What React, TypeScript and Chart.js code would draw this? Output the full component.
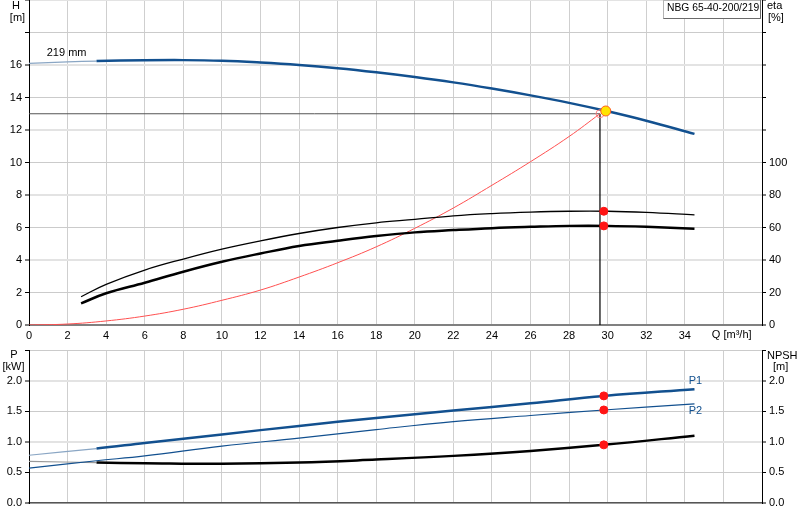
import { useEffect, useRef } from "react";
import { Chart, registerables } from "chart.js";

Chart.register(...registerables);

const FONT = "'Liberation Sans', Arial, sans-serif";
const BLUE = "#12508f";
const BLUE_FADED = "#8aa6c4";
const MIN_FLOW = 3.5;

// Q-H curve, 219 mm impeller
const qPump = [0, 2, 3.5, 6, 8, 10, 12, 14, 16, 18, 20, 22, 24, 26, 28, 30, 32, 34.5];
const hPump = [16.1, 16.19, 16.24, 16.29, 16.3, 16.26, 16.15, 16.0, 15.8, 15.55, 15.26, 14.93, 14.55, 14.13, 13.67, 13.15, 12.57, 11.76];

// system curve up to the requested point
const qSystem = [0, 2, 4, 6, 8, 10, 12, 14, 16, 18, 20, 22, 24, 26, 28, 29.6];
const hSystem = [0, 0.06, 0.25, 0.55, 0.97, 1.52, 2.15, 2.95, 3.83, 4.81, 5.95, 7.2, 8.6, 10.05, 11.6, 13];

// efficiency curves [%]
const qEta = [2.7, 4, 6, 8, 10, 12, 14, 16, 18, 20, 22, 24, 26, 28, 30, 32, 34.5];
const etaUpper = [17.4, 25, 33.8, 40.6, 46.7, 51.8, 56.3, 60, 62.9, 65, 67.2, 68.6, 69.5, 70, 70, 69.3, 67.8];
const etaLower = [13.3, 19.5, 26, 32.8, 38.9, 44, 48.6, 51.8, 54.7, 57, 58.4, 59.6, 60.4, 61, 61, 60.4, 59.2];

// power and NPSH
const qLower = [0, 3.5, 6, 10, 14, 18, 22, 26, 29.8, 34.5];
const p1 = [0.78, 0.89, 0.98, 1.12, 1.26, 1.39, 1.51, 1.63, 1.75, 1.86];
const p2 = [0.57, 0.69, 0.77, 0.93, 1.06, 1.2, 1.33, 1.43, 1.52, 1.62];
const npsh = [0.68, 0.66, 0.65, 0.64, 0.66, 0.71, 0.77, 0.85, 0.95, 1.1];

// duty point
const dutyQ = 29.8;
const etaDuty = [70, 61];
const powerDuty = [1.75, 1.52];
const npshDuty = 0.95;
const opQ = 29.9;
const opH = 13.17;
const reqQ = 29.6;
const reqH = 13;

Chart.defaults.font.family = FONT;

const xy = (qs: number[], vs: number[]) => qs.map((q, i) => ({ x: q, y: vs[i] }));

const minFlowSegment = (width: number, color: string, faded: string) => ({
  borderWidth: (c: any) => (c.p1.parsed.x <= MIN_FLOW ? 1.2 : width),
  borderColor: (c: any) => (c.p1.parsed.x <= MIN_FLOW ? faded : color),
});

const curve = (data: any[], color: string, width: number, axis: string, extra: any = {}) => ({
  data,
  yAxisID: axis,
  borderColor: color,
  borderWidth: width,
  pointRadius: 0,
  fill: false,
  tension: 0.4,
  ...extra,
});

const dots = (data: any[], axis: string, radius = 4, fill = "#ff1414", border = "#ff1414") => ({
  data,
  yAxisID: axis,
  showLine: false,
  pointRadius: radius,
  pointBackgroundColor: fill,
  pointBorderColor: border,
  pointBorderWidth: 1,
});

const qAxis = (labels: boolean, height: number, borderColor: string, borderWidth: number) => ({
  type: "linear",
  min: 0,
  max: 38,
  ticks: {
    stepSize: 2,
    display: labels,
    padding: 4,
    color: "#000",
    autoSkip: false,
    maxRotation: 0,
    font: { size: 11 },
    callback: (v: number) => (v <= 34 ? String(v) : ""),
  },
  grid: { color: "#cfcfcf", lineWidth: 1, drawTicks: false },
  border: { color: borderColor, width: borderWidth },
  afterFit: (s: any) => {
    s.height = height;
    s.paddingLeft = 0;
    s.paddingRight = 0;
  },
});

const valueAxis = (
  position: string,
  max: number,
  step: number,
  lastLabel: number,
  width: number,
  onArea: boolean,
  fmt: (v: number) => string
) => ({
  type: "linear",
  position,
  min: 0,
  max,
  ticks: {
    stepSize: step,
    padding: 3,
    color: "#000",
    font: { size: 11 },
    callback: (v: number) => (v <= lastLabel + 1e-9 ? fmt(v) : ""),
  },
  grid: {
    drawOnChartArea: onArea,
    color: (c: any) => (c.index % 2 === 0 ? "#e3e3e3" : "#cbcbcb"),
    lineWidth: (c: any) => (c.index % 2 === 0 ? 2 : 1),
    tickColor: "#000",
    tickWidth: 1,
    tickLength: 4,
  },
  border: { color: "#000", width: 1 },
  afterFit: (s: any) => {
    s.width = width;
    s.paddingTop = 0;
    s.paddingBottom = 0;
  },
});

function text(ctx: CanvasRenderingContext2D, s: string, x: number, y: number, align: CanvasTextAlign = "left", color = "#000") {
  ctx.fillStyle = color;
  ctx.textAlign = align;
  ctx.fillText(s, x, y);
}

const headLabels = {
  id: "headLabels",
  afterDraw(chart: any) {
    const { ctx, scales } = chart;
    const x = scales.x;
    const y = scales.y;
    ctx.save();
    ctx.font = `11px ${FONT}`;
    ctx.textBaseline = "middle";
    text(ctx, "H", 16, 6, "center");
    text(ctx, "[m]", 17.5, 17.5, "center");
    text(ctx, "eta", 767, 6);
    text(ctx, "[%]", 768, 17.5);
    text(ctx, "Q [m³/h]", x.getPixelForValue(35.4), 335);
    text(ctx, "219 mm", x.getPixelForValue(0.92), y.getPixelForValue(16.72));
    // type box
    ctx.fillStyle = "#fff";
    ctx.fillRect(663.5, 0.5, 97, 18);
    ctx.strokeStyle = "#b4b4b4";
    ctx.lineWidth = 1;
    ctx.strokeRect(663.5, 0.5, 97, 18);
    ctx.strokeStyle = "#6a6a6a";
    ctx.beginPath();
    ctx.moveTo(760.5, 0);
    ctx.lineTo(760.5, 18.5);
    ctx.lineTo(663.5, 18.5);
    ctx.stroke();
    ctx.font = `10.3px ${FONT}`;
    text(ctx, "NBG 65-40-200/219", 667, 8);
    ctx.restore();
  },
};

const powerLabels = {
  id: "powerLabels",
  afterDraw(chart: any) {
    const { ctx, scales } = chart;
    const x = scales.x;
    const y = scales.p;
    ctx.save();
    ctx.font = `11px ${FONT}`;
    ctx.textBaseline = "middle";
    text(ctx, "P", 14, 15, "center");
    text(ctx, "[kW]", 13.5, 27, "center");
    text(ctx, "NPSH", 767, 16);
    text(ctx, "[m]", 773, 27);
    text(ctx, "P1", x.getPixelForValue(34.2), y.getPixelForValue(2.0), "left", BLUE);
    text(ctx, "P2", x.getPixelForValue(34.2), y.getPixelForValue(1.51), "left", BLUE);
    ctx.restore();
  },
};

function HeadChart() {
  const canvasRef = useRef<HTMLCanvasElement>(null);

  useEffect(() => {
    if (!canvasRef.current) return;
    const chart = new Chart(canvasRef.current, {
      type: "line",
      data: {
        datasets: [
          dots([{ x: opQ, y: opH }], "y", 5, "#ffe400", "#ff5a1f"),
          dots([{ x: reqQ, y: reqH }], "y", 4, "rgba(0,0,0,0)", "#ff8080"),
          dots(etaDuty.map((e) => ({ x: dutyQ, y: e })), "eta"),
          curve(xy(qPump, hPump), BLUE, 2.5, "y", { segment: minFlowSegment(2.5, BLUE, BLUE_FADED) }),
          curve(xy(qEta, etaUpper), "#000", 1.3, "eta"),
          curve(xy(qEta, etaLower), "#000", 2.5, "eta"),
          curve(xy(qSystem, hSystem), "#ff5050", 1, "y"),
          curve([{ x: 0, y: reqH }, { x: reqQ, y: reqH }], "#555", 1, "y", { tension: 0 }),
          curve([{ x: reqQ, y: reqH }, { x: reqQ, y: 0 }], "#000", 1.2, "y", { tension: 0 }),
        ] as any,
      },
      options: {
        responsive: false,
        animation: false,
        layout: { padding: 0, autoPadding: false },
        plugins: { legend: { display: false }, tooltip: { enabled: false } },
        scales: {
          x: qAxis(true, 20, "#808080", 2),
          y: valueAxis("left", 20, 2, 16, 29, true, (v) => String(v)),
          eta: valueAxis("right", 200, 20, 100, 38, false, (v) => String(v)),
        } as any,
      },
      plugins: [headLabels],
    });
    return () => chart.destroy();
  }, []);

  return <canvas ref={canvasRef} width={800} height={345} style={{ position: "absolute", left: 0, top: 0 }} />;
}

function PowerChart() {
  const canvasRef = useRef<HTMLCanvasElement>(null);

  useEffect(() => {
    if (!canvasRef.current) return;
    const chart = new Chart(canvasRef.current, {
      type: "line",
      data: {
        datasets: [
          dots(powerDuty.map((p) => ({ x: dutyQ, y: p })), "p"),
          dots([{ x: dutyQ, y: npshDuty }], "npsh"),
          curve(xy(qLower, p1), BLUE, 2.5, "p", { segment: minFlowSegment(2.5, BLUE, BLUE_FADED) }),
          curve(xy(qLower, p2), BLUE, 1.2, "p"),
          curve(xy(qLower, npsh), "#000", 2.5, "npsh", { segment: minFlowSegment(2.5, "#000", "#9a9a9a") }),
        ] as any,
      },
      options: {
        responsive: false,
        animation: false,
        layout: { padding: { top: 10, left: 0, right: 0, bottom: 0 }, autoPadding: false },
        plugins: { legend: { display: false }, tooltip: { enabled: false } },
        scales: {
          x: qAxis(false, 17, "#555", 1.5),
          p: valueAxis("left", 2.5, 0.5, 2, 29, true, (v) => v.toFixed(1)),
          npsh: valueAxis("right", 2.5, 0.5, 2, 38, false, (v) => v.toFixed(1)),
        } as any,
      },
      plugins: [powerLabels],
    });
    return () => chart.destroy();
  }, []);

  return <canvas ref={canvasRef} width={800} height={180} style={{ position: "absolute", left: 0, top: 340 }} />;
}

export default function App() {
  return (
    <div style={{ position: "absolute", left: 0, top: 0, width: 800, height: 520, background: "#fff", overflow: "hidden" }}>
      <HeadChart />
      <PowerChart />
    </div>
  );
}
